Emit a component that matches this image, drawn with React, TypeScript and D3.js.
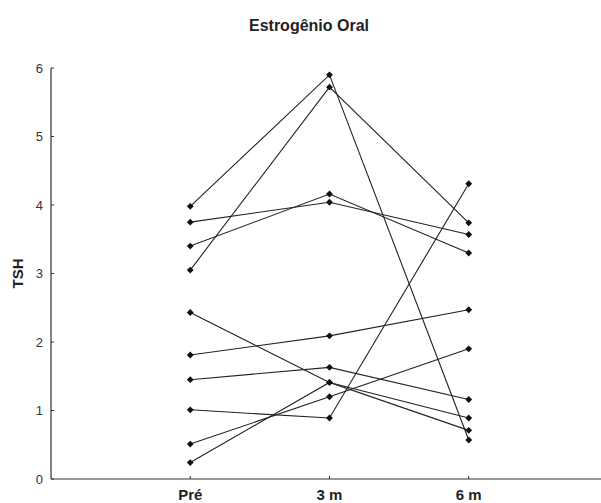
import React from "react";
import * as d3 from "d3";

const WIDTH = 601;
const HEIGHT = 503;

const title = "Estrogênio Oral";
const yLabel = "TSH";
const timepoints = ["Pré", "3 m", "6 m"];
const yTicks = [0, 1, 2, 3, 4, 5, 6];

// TSH per subject at Pré, 3 m and 6 m
const subject1 = [3.98, 5.9, 0.57];
const subject2 = [3.05, 5.72, 3.74];
const subject3 = [3.75, 4.04, 3.57];
const subject4 = [3.4, 4.16, 3.3];
const subject5 = [2.43, 1.41, 0.89];
const subject6 = [1.81, 2.09, 2.47];
const subject7 = [1.45, 1.63, 1.16];
const subject8 = [1.01, 0.89, 4.31];
const subject9 = [0.51, 1.2, 1.9];
const subject10 = [0.24, 1.41, 0.71];

const subjects = [
  subject1, subject2, subject3, subject4, subject5,
  subject6, subject7, subject8, subject9, subject10,
];

const margin = { left: 51, right: 0, top: 68, bottom: 24 };
const FONT = "'Liberation Sans', Arial, Helvetica, sans-serif";
const INK = "#222";

export default function App() {
  const plotBottom = HEIGHT - margin.bottom;
  const x = d3.scaleLinear().domain([0, 3.95]).range([margin.left, WIDTH]);
  const y = d3.scaleLinear().domain([0, 6]).range([plotBottom, margin.top]);

  const line = d3
    .line<number>()
    .x((_, i) => x(i + 1))
    .y((d) => y(d));

  const diamond = d3.symbol().type(d3.symbolDiamond2).size(30)();

  return (
    <svg
      width={WIDTH}
      height={HEIGHT}
      style={{ position: "absolute", left: 0, top: 0, background: "#fff" }}
      fontFamily={FONT}
    >
      <text
        x={309}
        y={31}
        textAnchor="middle"
        fontSize={16}
        fontWeight="bold"
        fill={INK}
      >
        {title}
      </text>

      <text
        transform={`translate(23,${y(3.0)}) rotate(-90)`}
        textAnchor="middle"
        fontSize={15}
        fontWeight="bold"
        fill={INK}
      >
        {yLabel}
      </text>

      {/* y axis */}
      <line x1={x(0)} x2={x(0)} y1={y(6)} y2={plotBottom} stroke="#333" strokeWidth={1.2} />
      {yTicks.map((t) => (
        <g key={t}>
          <line x1={x(0)} x2={x(0) + 3} y1={y(t)} y2={y(t)} stroke="#333" />
          <text
            x={43}
            y={y(t)}
            dy="0.36em"
            textAnchor="end"
            fontSize={13}
            fill="#333"
          >
            {t}
          </text>
        </g>
      ))}

      {/* x axis */}
      <line x1={x(0)} x2={WIDTH} y1={plotBottom} y2={plotBottom} stroke="#333" strokeWidth={1.2} />
      {timepoints.map((c, i) => (
        <g key={c}>
          <line x1={x(i + 1)} x2={x(i + 1)} y1={plotBottom} y2={plotBottom - 3} stroke="#333" />
          <text
            x={x(i + 1)}
            y={plotBottom + 21}
            textAnchor="middle"
            fontSize={15}
            fontWeight="bold"
            fill={INK}
          >
            {c}
          </text>
        </g>
      ))}

      {subjects.map((s, k) => (
        <g key={k}>
          <path d={line(s) ?? ""} fill="none" stroke={INK} strokeWidth={1.1} />
          {s.map((v, i) => (
            <path
              key={i}
              d={diamond ?? ""}
              transform={`translate(${x(i + 1)},${y(v)})`}
              fill="#111"
            />
          ))}
        </g>
      ))}
    </svg>
  );
}
